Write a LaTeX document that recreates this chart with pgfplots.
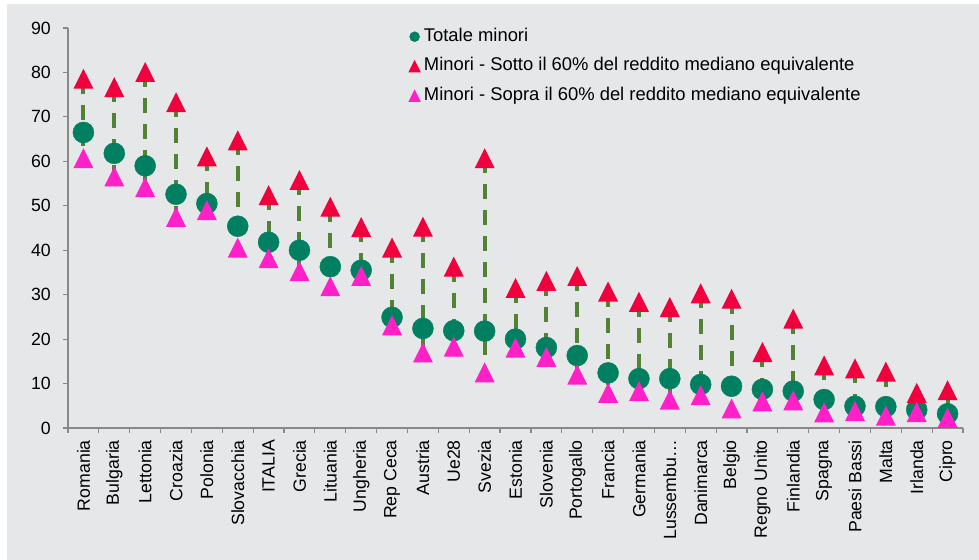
\documentclass[border=0pt]{standalone}
\usepackage{fontspec}
\setmainfont{Liberation Sans}
\usepackage{pgfplots}
\usepackage{pgfplotstable}
\pgfplotsset{compat=1.18}
\definecolor{cTot}{RGB}{0,128,96}
\definecolor{cRed}{RGB}{240,0,60}
\definecolor{cPink}{RGB}{255,32,200}
\definecolor{cLine}{RGB}{84,130,53}
\definecolor{cBg}{RGB}{230,231,233}
\definecolor{cAxis}{RGB}{137,137,137}
\pgfdeclareplotmark{xtri}{%
  \pgfpathmoveto{\pgfqpoint{0pt}{\pgfplotmarksize}}%
  \pgfpathlineto{\pgfqpoint{\pgfplotmarksize}{-\pgfplotmarksize}}%
  \pgfpathlineto{\pgfqpoint{-\pgfplotmarksize}{-\pgfplotmarksize}}%
  \pgfpathclose\pgfusepathqfill}
\pgfplotstableread{
x tot red pink
0 66.5 78.6 60.7
1 61.8 76.7 56.6
2 59.0 80.1 54.2
3 52.6 73.3 47.5
4 50.5 61.1 49.0
5 45.4 64.7 40.6
6 41.8 52.4 38.2
7 40.0 55.8 35.3
8 36.3 49.8 31.9
9 35.5 45.2 34.2
10 24.9 40.6 23.1
11 22.4 45.3 17.0
12 21.9 36.3 18.3
13 21.8 60.7 12.5
14 20.0 31.5 18.1
15 18.1 33.1 16.0
16 16.3 34.2 12.0
17 12.4 30.7 7.9
18 11.1 28.4 8.3
19 11.1 27.2 6.4
20 9.8 30.3 7.4
21 9.4 29.1 4.4
22 8.7 17.1 6.0
23 8.3 24.6 6.2
24 6.4 14.1 3.5
25 4.9 13.4 3.8
26 4.8 12.7 2.8
27 4.1 7.9 3.6
28 3.2 8.5 2.3
}\data
\begin{document}
\begin{tikzpicture}[font=\fontsize{17.7bp}{21bp}\selectfont]
\fill[white] (0,0) rectangle (979bp,560bp);
\fill[cBg] (7bp,0) rectangle (979bp,556bp);
\begin{axis}[
  at={(68bp,132bp)}, anchor=south west,
  scale only axis, width=895bp, height=400bp,
  xmin=-0.5, xmax=28.5, ymin=0, ymax=90,
  ytick={0,10,...,90},
  xtick={-0.5,0.5,...,28.5},
  x tick label as interval,
  xticklabels={Romania,Bulgaria,Lettonia,Croazia,Polonia,Slovacchia,ITALIA,Grecia,Lituania,Ungheria,Rep Ceca,Austria,Ue28,Svezia,Estonia,Slovenia,Portogallo,Francia,Germania,Lussembu…,Danimarca,Belgio,Regno Unito,Finlandia,Spagna,Paesi Bassi,Malta,Irlanda,Cipro},
  xticklabel style={rotate=90, anchor=east, inner sep=0pt, xshift=-7bp},
  yticklabel style={inner sep=0pt, xshift=-12bp},
  /pgf/number format/assume math mode=true,
  axis x line*=bottom, axis y line*=left,
  tick align=outside, major tick length=5bp,
  tick style={cAxis, line width=1.2bp},
  axis line style={cAxis, line width=2bp},
  clip=false,
  legend style={draw=none, fill=none, at={(0.3767,1.005)}, anchor=north west,
    column sep=3bp, row sep=12.5bp, font=\fontsize{18.4bp}{22bp}\selectfont,
    nodes={inner sep=0pt, text height=13bp, text depth=4bp}},
  legend cell align=left,
  legend image code/.code={\draw[#1] plot coordinates {(0bp,0bp)};},
]
\addplot[draw=none, mark=none, forget plot,
  error bars/.cd, y dir=minus, y explicit, error mark=none,
  error bar style={draw=cLine, line width=4bp, dash pattern=on 15bp off 11bp}]
  table[x=x, y=red, y error minus expr=\thisrow{red}-\thisrow{pink}] {\data};
\addplot[only marks, mark=*, mark size=10.5bp, color=cTot, mark options={draw=none},
  legend image post style={mark size=5bp}]
  table[x=x, y=tot] {\data};
\addlegendentry{Totale minori}
\addplot[only marks, mark=xtri, mark size=10bp, color=cRed,
  legend image post style={mark size=6.3bp}]
  table[x=x, y=red] {\data};
\addlegendentry{Minori - Sotto il 60\% del reddito mediano equivalente}
\addplot[only marks, mark=xtri, mark size=10bp, color=cPink,
  legend image post style={mark size=6.3bp}]
  table[x=x, y=pink] {\data};
\addlegendentry{Minori - Sopra il 60\% del reddito mediano equivalente}
\end{axis}
\pgfresetboundingbox
\path[use as bounding box] (0,0) rectangle (979bp,560bp);
\end{tikzpicture}
\end{document}
